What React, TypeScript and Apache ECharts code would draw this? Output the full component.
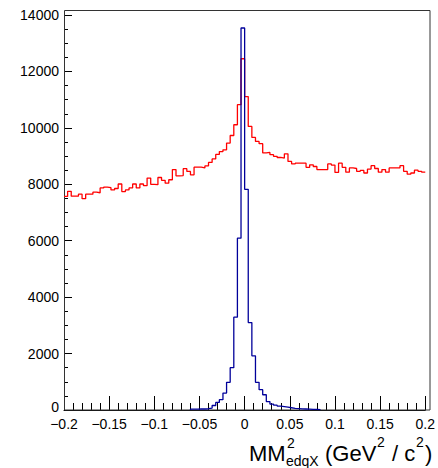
import React, { useEffect, useRef } from 'react';
import * as echarts from 'echarts';

// Histogram binning: 100 bins on [-0.2, 0.2]
const BIN_LOW = -0.2;
const BIN_WIDTH = 0.004;

// Red histogram (all events), counts per bin
const redCounts = [
  7570, 7750, 7580, 7580, 7650, 7490, 7650, 7650, 7720, 7700,
  7870, 7900, 7880, 7800, 7850, 8010, 7740, 7800, 7870, 8010,
  7870, 8010, 7950, 8220, 8000, 7985, 8240, 8140, 8040, 8160,
  8520, 8300, 8310, 8555, 8455, 8335, 8605, 8605, 8580, 8650,
  8775, 8900, 9060, 9160, 9220, 9460, 9730, 10110, 10820, 12450,
  11110, 10050, 9660, 9520, 9440, 9110, 9130, 9050, 8990, 8950,
  8930, 9080, 8810, 8720, 8750, 8750, 8750, 8600, 8690, 8630,
  8520, 8520, 8520, 8720, 8680, 8420, 8750, 8600, 8430, 8580,
  8560, 8460, 8490, 8400, 8540, 8660, 8560, 8430, 8520, 8430,
  8580, 8580, 8580, 8660, 8460, 8360, 8400, 8500, 8460, 8430,
];

// Blue histogram (selected events), counts per bin
const blueCounts = [
  0, 0, 0, 0, 0, 0, 0, 0, 0, 0,
  0, 0, 0, 0, 0, 0, 0, 0, 0, 0,
  0, 0, 0, 0, 0, 0, 0, 0, 0, 0,
  0, 0, 0, 0, 0, 30, 30, 35, 35, 45,
  70, 160, 270, 365, 600, 980, 1500, 3290, 6090, 13540,
  7820, 3100, 1920, 980, 720, 540, 300, 210, 170, 140,
  120, 100, 80, 60, 50, 40, 35, 30, 25, 20,
  15, 0, 0, 0, 0, 0, 0, 0, 0, 0,
  0, 0, 0, 0, 0, 0, 0, 0, 0, 0,
  0, 0, 0, 0, 0, 0, 0, 0, 0, 0,
];

const X_MIN = -0.2;
const X_MAX = 0.2;
const X_INTERVAL = 0.05;
const Y_MIN = 0;
const Y_MAX = 14000;
const Y_INTERVAL = 2000;

function histogramPoints(counts: number[], trimZeros: boolean): [number, number][] {
  let first = 0;
  let last = counts.length - 1;
  if (trimZeros) {
    while (first < last && counts[first] === 0) first++;
    while (last > first && counts[last] === 0) last--;
  }
  const pts: [number, number][] = [];
  if (trimZeros) pts.push([BIN_LOW + first * BIN_WIDTH, 0]);
  for (let i = first; i <= last; i++) pts.push([BIN_LOW + i * BIN_WIDTH, counts[i]]);
  pts.push([BIN_LOW + (last + 1) * BIN_WIDTH, counts[last]]);
  if (trimZeros) pts.push([BIN_LOW + (last + 1) * BIN_WIDTH, 0]);
  return pts;
}

function fmtX(v: number): string {
  const r = Math.round(v * 100) / 100;
  if (r === 0) return '0';
  return (r < 0 ? '\u2212' : '') + String(Math.abs(r));
}

function fmtY(v: number): string {
  const r = Math.round(v);
  if (r === 0) return '{zero|0}';
  return String(r);
}

const FONT = '"Liberation Sans", Arial, Helvetica, sans-serif';

function titleText(text: string, x: number, y: number, size: number) {
  return {
    type: 'text',
    x,
    y,
    silent: true,
    style: {
      text,
      font: `${size}px ${FONT}`,
      fill: '#000',
      textAlign: 'left',
      textVerticalAlign: 'middle',
      align: 'left',
      verticalAlign: 'middle',
    },
  };
}

export default function App() {
  const ref = useRef<HTMLDivElement>(null);

  useEffect(() => {
    if (!ref.current) return;
    const chart = echarts.init(ref.current, undefined, { renderer: 'svg' });
    chart.setOption({
      animation: false,
      backgroundColor: '#ffffff',
      grid: { left: 64, right: 8, top: 15, bottom: 58, show: false },
      xAxis: {
        type: 'value',
        min: X_MIN,
        max: X_MAX,
        interval: X_INTERVAL,
        axisLine: { show: true, onZero: false, lineStyle: { color: '#000', width: 1 } },
        axisTick: { show: true, inside: true, length: 14, lineStyle: { color: '#000', width: 1 } },
        minorTick: { show: true, splitNumber: 5, length: 7, lineStyle: { color: '#000', width: 1 } },
        splitLine: { show: false },
        minorSplitLine: { show: false },
        axisLabel: {
          color: '#000',
          fontSize: 14,
          fontFamily: FONT,
          margin: 7,
          formatter: fmtX,
        },
      },
      yAxis: {
        type: 'value',
        min: Y_MIN,
        max: Y_MAX,
        interval: Y_INTERVAL,
        axisLine: { show: true, onZero: false, lineStyle: { color: '#000', width: 1 } },
        axisTick: { show: true, inside: true, length: 8, lineStyle: { color: '#000', width: 1 } },
        minorTick: { show: true, splitNumber: 4, length: 4, lineStyle: { color: '#000', width: 1 } },
        splitLine: { show: false },
        minorSplitLine: { show: false },
        axisLabel: {
          color: '#000',
          fontSize: 14,
          fontFamily: FONT,
          margin: 5,
          formatter: fmtY,
          rich: {
            zero: { fontSize: 14, fontFamily: FONT, color: '#000', padding: [0, 0, 7, 0] },
          },
        },
      },
      series: [
        {
          type: 'line',
          name: 'all',
          step: 'end',
          symbol: 'none',
          data: histogramPoints(redCounts, false),
          lineStyle: { color: '#ff0000', width: 1.3 },
          z: 3,
        },
        {
          type: 'line',
          name: 'selected',
          step: 'end',
          symbol: 'none',
          data: histogramPoints(blueCounts, true),
          lineStyle: { color: '#00009a', width: 1.3 },
          z: 4,
        },
      ],
      graphic: [
        {
          type: 'rect',
          silent: true,
          shape: { x: 64.5, y: 10.5, width: 365.5, height: 399.5 },
          style: { fill: 'none', stroke: '#333', lineWidth: 1 },
          z: 1,
        },
        titleText('MM', 249, 453, 22),
        titleText('2', 287, 443, 14),
        titleText('edqX', 286, 461, 14),
        titleText('(GeV', 325, 453, 22),
        titleText('2', 377, 442, 14),
        titleText('/ c', 392, 453, 22),
        titleText('2', 416, 442, 14),
        titleText(')', 425, 453, 22),
      ],
    });
    return () => chart.dispose();
  }, []);

  return (
    <div
      ref={ref}
      style={{ position: 'absolute', left: 0, top: 0, width: 438, height: 468, background: '#fff' }}
    />
  );
}
